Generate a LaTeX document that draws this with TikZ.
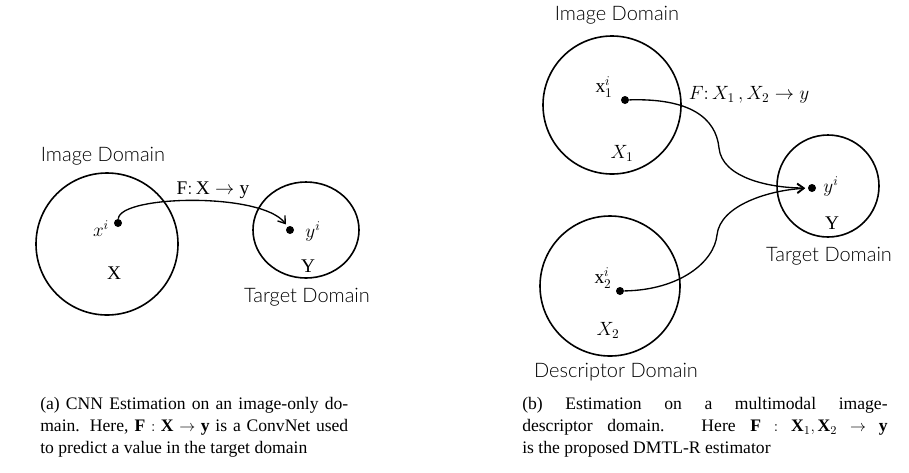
\documentclass[tikz,border=0pt]{standalone}
\usepackage{fontspec}
\setmainfont{Liberation Serif}
\newfontfamily\domfont{Lato Light}
\usetikzlibrary{arrows.meta}

\newcommand\captmath{\thickmuskip=5mu plus 2mu\relax\medmuskip=4mu\relax}

\tikzset{
  domcircle/.style={draw, line width=1.2pt},
  pt/.style={circle, fill=black, inner sep=0pt, minimum size=6pt},
  lbl/.style={font=\domfont\fontsize{15}{17}\selectfont},
  sym/.style={font=\fontsize{14.5}{17}\selectfont, inner sep=1pt},
  map/.style={line width=1pt, shorten >=2pt, -{Straight Barb[length=5pt,width=7pt]}},
  capt/.style={anchor=north west, align=justify, inner sep=0pt,
    font=\fontsize{13.2}{16.6}\selectfont}
}

\begin{document}
\begin{tikzpicture}[x=0.75pt, y=-0.75pt]
  \useasboundingbox (0,0) rectangle (909,472);

  % (a) image only
  \draw[domcircle] (107,244) circle [radius=71];
  \draw[domcircle] (306,230) ellipse [x radius=53, y radius=48];
  \node[lbl] (imglbl) at (103,156) {Image Domain};
  \node[lbl] (tgtlbl) at (307,297) {Target Domain};
  \node[pt] (xi) at (118,223) {};
  \node[pt] (yi) at (290,230) {};
  \node[sym] (xilbl) at (101,229) {$x^i$};
  \node[sym] (Xlbl) at (114,273) {$\mathrm{X}$};
  \node[sym] (yilbl) at (313,231) {$y^i$};
  \node[sym] (Ylbl) at (308,266) {$\mathrm{Y}$};
  \node[sym] (fa) at (213,190) {$\mathrm{F}\colon \mathrm{X}\rightarrow \mathrm{y}$};
  \draw[map] (xi) .. controls (120,195) and (262,192) .. (yi);

  % (b) image + descriptor
  \draw[domcircle] (612,105) circle [radius=69];
  \draw[domcircle] (610,286) circle [radius=70];
  \draw[domcircle] (828,186) circle [radius=51];
  \node[lbl] (imglbl2) at (617,15) {Image Domain};
  \node[lbl] (desclbl) at (616,372) {Descriptor Domain};
  \node[lbl] (tgtlbl2) at (829,256) {Target Domain};
  \node[pt] (x1i) at (625,100) {};
  \node[pt] (x2i) at (620,291) {};
  \node[pt] (yi2) at (812,188) {};
  \node[sym] (x1lbl) at (604,87) {$\mathrm{x}_1^i$};
  \node[sym] (X1lbl) at (622,153) {$X_1$};
  \node[sym] (x2lbl) at (603,278) {$\mathrm{x}_2^i$};
  \node[sym] (X2lbl) at (608,330) {$X_2$};
  \node[sym] (yi2lbl) at (831,186) {$y^i$};
  \node[sym] (Y2lbl) at (832,223) {$\mathrm{Y}$};
  \node[sym] (fb) at (749,95) {$F\colon X_1\,,X_2\rightarrow y$};
  \draw[map] (x1i) .. controls (690,98) and (716,118) .. (719,148)
    .. controls (722,178) and (770,188) .. (yi2);
  \draw[map] (x2i) .. controls (680,290) and (714,262) .. (717,235)
    .. controls (720,205) and (770,190) .. (yi2);

  % captions
  \node[capt, text width=231pt] (capa) at (40,397)
    {\captmath (a) CNN Estimation on an image-only do-\linebreak
     main. Here, $\mathbf{F}:\mathbf{X}\rightarrow\mathbf{y}$ is a ConvNet used\linebreak
     to predict a value in the target domain};
  \node[capt, text width=274pt] (capb) at (522,397)
    {\captmath (b) Estimation on a multimodal image-\linebreak
     descriptor domain. Here $\mathbf{F}:\mathbf{X}_1,\mathbf{X}_2\rightarrow\mathbf{y}$\linebreak
     is the proposed DMTL-R estimator};
\end{tikzpicture}
\end{document}
